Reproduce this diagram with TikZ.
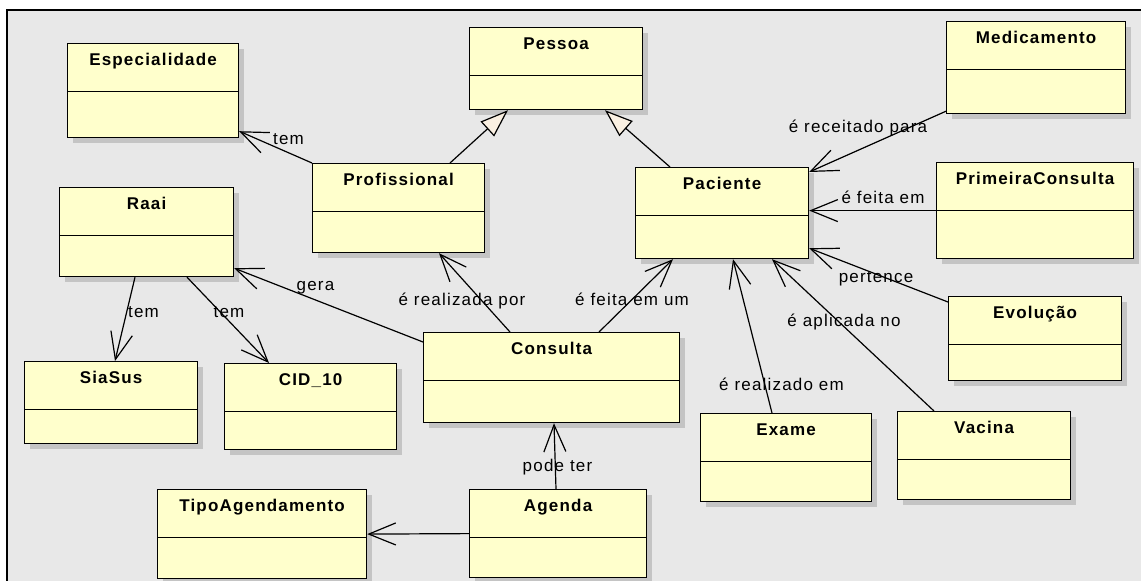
\documentclass[tikz,border=0pt]{standalone}
\usepackage{fontspec}
\newfontfamily\umlfont[LetterSpace=7]{Liberation Sans}
\usetikzlibrary{arrows.meta,shadows}
\definecolor{myBackGray}{RGB}{232,232,232}
\definecolor{myShadowGray}{RGB}{196,196,196}
\definecolor{myYellow}{RGB}{255,255,204}
\definecolor{myCream}{RGB}{250,240,226}

% class box: name, left, top, width, height, title
\newcommand{\umlclass}[6]{%
    \node[classbox, minimum width=#4pt, minimum height=#5pt] (#1) at (#2,-#3) {};
    \node[classtitle] (#1Title) at ([yshift=-22pt]#1.north) {#6};
    \draw[line width=1pt] ([yshift=-48.5pt]#1.north west) -- ([yshift=-48.5pt]#1.north east);
}

\begin{document}
\begin{tikzpicture}[%
    x=1pt, y=1pt,
    classbox/.style={
        draw,
        line width=1.2pt,
        fill=myYellow,
        anchor=north west,
        inner sep=0pt,
        drop shadow={shadow xshift=5pt, shadow yshift=-5pt, fill=myShadowGray, opacity=1},
    },
    classtitle/.style={anchor=base, inner sep=0pt, font=\fontsize{17}{20}\umlfont\bfseries},
    lbl/.style={anchor=base, inner sep=0pt, font=\fontsize{17}{20}\umlfont},
    assoc/.style={line width=1.2pt, -{Straight Barb[length=27pt, width=22pt]}},
    gen/.style={line width=1.2pt, -{Triangle[length=28pt, width=20pt, fill=myCream]}},
]
\useasboundingbox (0,0) rectangle (1141,-581);

% draw frame
\draw[fill=myBackGray, line width=1.3pt] (7,-10) rectangle (1150,-590);

% place classes
\umlclass{esp}{67}{43}{171}{94}{Especialidade}
\umlclass{pes}{469}{27}{173}{82}{Pessoa}
\umlclass{med}{946}{21}{179}{92}{Medicamento}
\umlclass{prof}{312}{163}{172}{89}{Profissional}
\umlclass{pac}{635}{167}{173}{91}{Paciente}
\umlclass{prim}{936}{162}{197}{96}{PrimeiraConsulta}
\umlclass{raai}{59}{187}{174}{89}{Raai}
\umlclass{sia}{24}{361}{173}{82}{SiaSus}
\umlclass{cid}{224}{363}{172}{86}{CID\_10}
\umlclass{cons}{423}{332}{256}{90}{Consulta}
\umlclass{evo}{948}{296}{173}{84}{Evolução}
\umlclass{exa}{700}{413}{171}{88}{Exame}
\umlclass{vac}{897}{411}{173}{88}{Vacina}
\umlclass{age}{469}{489}{177}{88}{Agenda}
\umlclass{tipo}{157}{489}{209}{89}{TipoAgendamento}

% generalizations
\draw[gen] ([xshift=138pt]prof.north west) -- ([xshift=39pt]pes.south west);
\draw[gen] ([xshift=35pt]pac.north west) -- ([xshift=136pt]pes.south west);

% associations
\draw[assoc] (prof.north west) -- ([yshift=7pt]esp.south east);
\draw[assoc] ([yshift=3pt]med.south west) -- ([yshift=-5pt]pac.north east);
\draw[assoc] (prim.west) -- (prim.west -| pac.east);
\draw[assoc] ([yshift=-6pt]evo.north west) -- ([yshift=11pt]pac.south east);
\draw[assoc] ([xshift=37pt]vac.north west) -- ([xshift=137pt]pac.south west);
\draw[assoc] ([xshift=72pt]exa.north west) -- ([xshift=98pt]pac.south west);
\draw[assoc] ([xshift=176pt]cons.north west) -- ([xshift=38pt]pac.south west);
\draw[assoc] ([xshift=87pt]cons.north west) -- ([xshift=127pt]prof.south west);
\draw[assoc] ([yshift=-10pt]cons.north west) -- ([yshift=9pt]raai.south east);
\draw[assoc] ([xshift=76pt]raai.south west) -- ([xshift=91pt]sia.north west);
\draw[assoc] ([xshift=128pt]raai.south west) -- ([xshift=45pt]cid.north west);
\draw[assoc] ([xshift=87pt]age.north west) -- ([xshift=131pt]cons.south west);
\draw[assoc] (age.west) -- (tipo.east);

% association labels
\node[lbl] (temEsp) at (288.5,-144) {tem};
\node[lbl] (receitado) at (858,-132) {é receitado para};
\node[lbl] (feitaEm) at (883,-203) {é feita em};
\node[lbl] (pertence) at (876,-282) {pertence};
\node[lbl] (aplicada) at (844,-326) {é aplicada no};
\node[lbl] (realizado) at (781.5,-390) {é realizado em};
\node[lbl] (feitaEmUm) at (632,-305) {é feita em um};
\node[lbl] (realizadaPor) at (462,-305) {é realizada por};
\node[lbl] (gera) at (315.5,-290) {gera};
\node[lbl] (temSia) at (143.5,-317) {tem};
\node[lbl] (temCid) at (229,-317) {tem};
\node[lbl] (podeTer) at (557.5,-471) {pode ter};

\end{tikzpicture}
\end{document}
